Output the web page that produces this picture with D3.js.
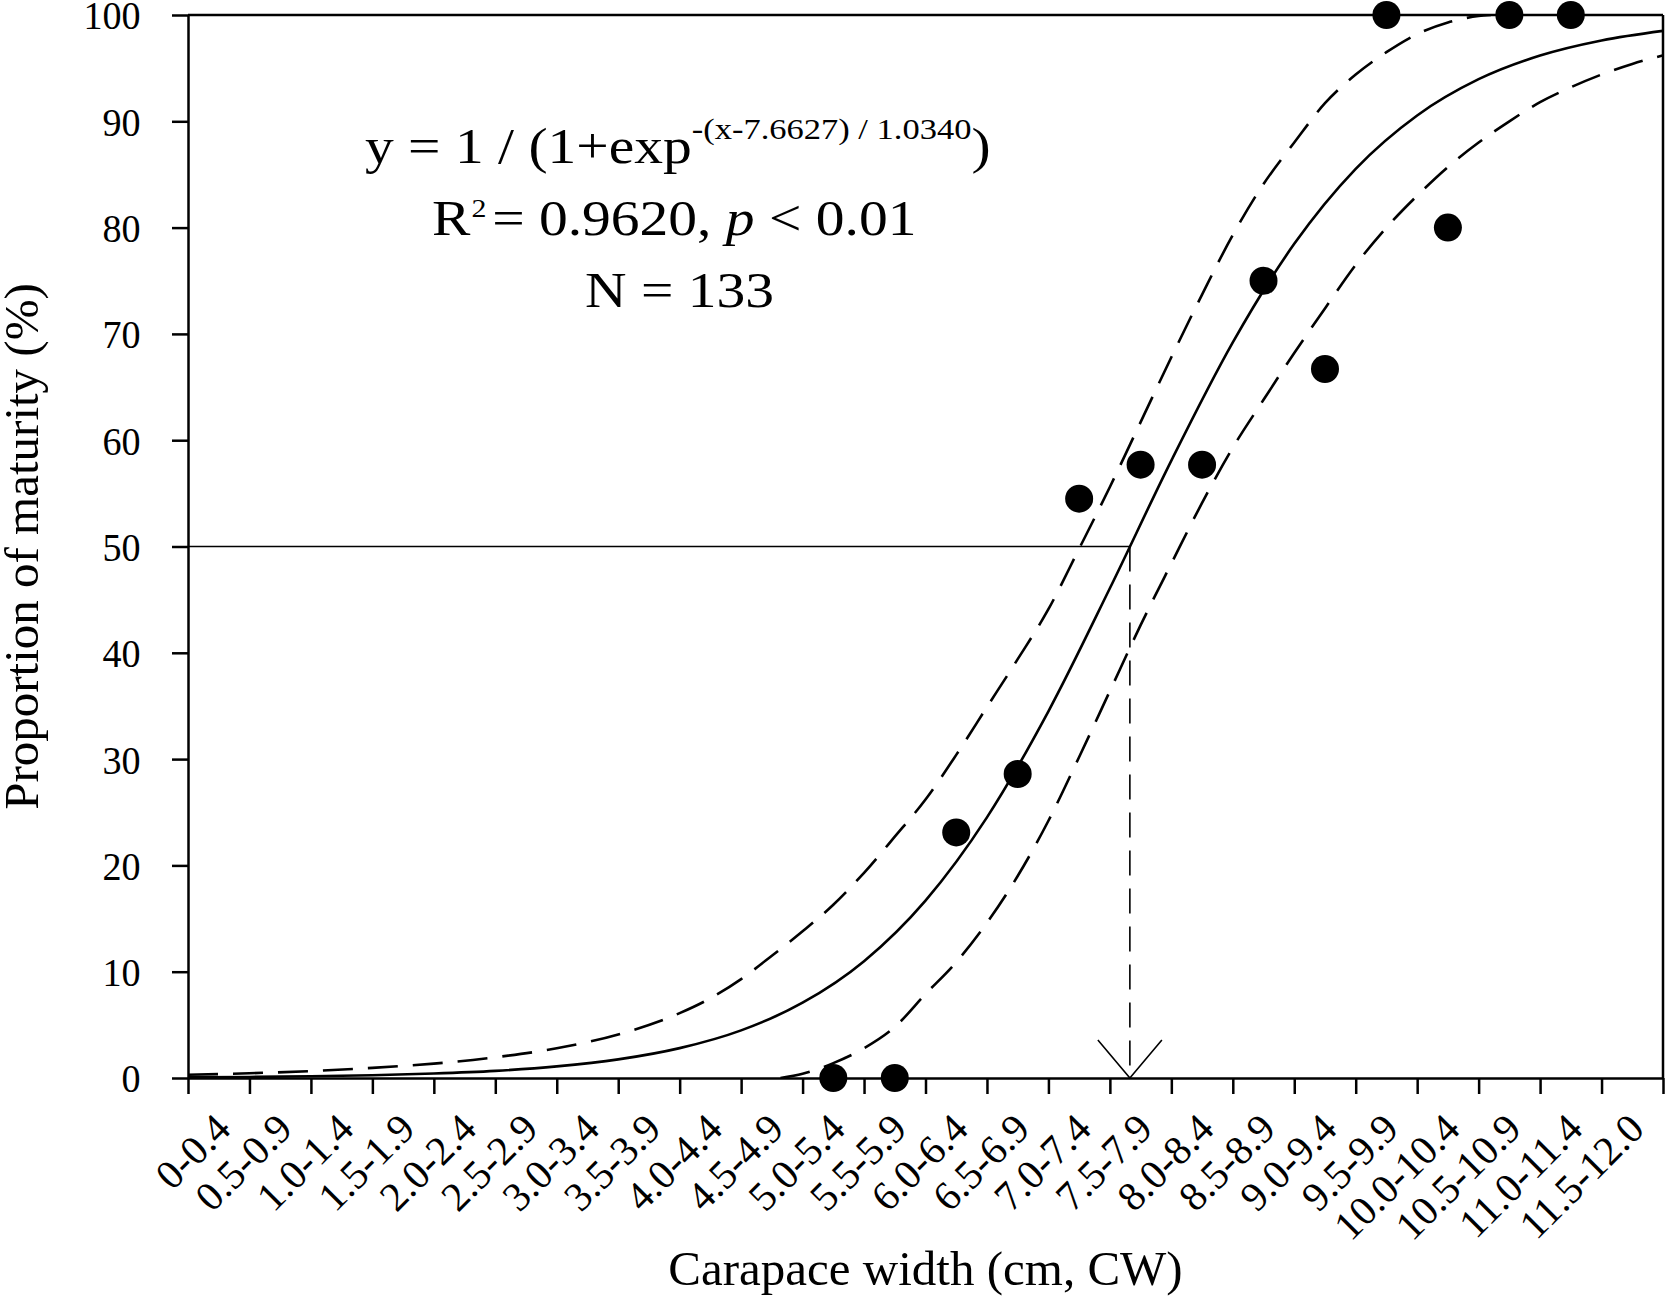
<!DOCTYPE html>
<html>
<head>
<meta charset="utf-8">
<script src="https://cdn.jsdelivr.net/npm/d3@7"></script>
<style>
    body { margin: 0; background: #fff; }
    svg text { font-family: "Liberation Serif", "Times New Roman", serif; fill: #000; white-space: pre; }
</style>
</head>
<body>
<div id="chart"></div>
<script>
// carapace width classes (cm) shown on the x axis
const size_classes = ["0-0.4", "0.5-0.9", "1.0-1.4", "1.5-1.9", "2.0-2.4", "2.5-2.9", "3.0-3.4", "3.5-3.9",
    "4.0-4.4", "4.5-4.9", "5.0-5.4", "5.5-5.9", "6.0-6.4", "6.5-6.9", "7.0-7.4", "7.5-7.9", "8.0-8.4",
    "8.5-8.9", "9.0-9.4", "9.5-9.9", "10.0-10.4", "10.5-10.9", "11.0-11.4", "11.5-12.0"];
const y_ticks = [0, 10, 20, 30, 40, 50, 60, 70, 80, 90, 100];
const x_edges = [0, 0.5, 1, 1.5, 2, 2.5, 3, 3.5, 4, 4.5, 5, 5.5, 6, 6.5, 7, 7.5, 8, 8.5, 9, 9.5, 10, 10.5, 11, 11.5, 12];

// observed proportion mature per class
const observed_classes = ["5.0-5.4", "5.5-5.9", "6.0-6.4", "6.5-6.9", "7.0-7.4", "7.5-7.9", "8.0-8.4",
    "8.5-8.9", "9.0-9.4", "9.5-9.9", "10.0-10.4", "10.5-10.9", "11.0-11.4"];
const observed_pct = [0, 0, 23.1, 28.6, 54.5, 57.7, 57.7, 75.0, 66.7, 100, 80.0, 100, 100];

// fitted logistic curve (solid)
const fit_cw = [0, 0.5, 1, 1.5, 2, 2.5, 3, 3.5, 4, 4.5, 5, 5.5, 6, 6.5, 7, 7.5, 8, 8.5, 9, 9.5, 10, 10.5, 11, 11.5, 12];
const fit_pct = [0.06, 0.1, 0.16, 0.26, 0.42, 0.67, 1.09, 1.75, 2.81, 4.48, 7.08, 10.99, 16.69, 24.52, 34.5,
    46.07, 58.08, 69.2, 78.47, 85.53, 90.55, 93.96, 96.19, 97.61, 98.51];

// upper and lower dashed bands
const upper_cw = [0, 0.5, 1, 1.5, 2, 2.5, 3, 3.5, 4, 4.25, 4.5, 4.75, 5, 5.25, 5.5, 5.75, 6, 6.25, 6.5, 6.75,
    7, 7.25, 7.5, 7.75, 8, 8.25, 8.5, 8.75, 9, 9.25, 9.5, 9.75, 10, 10.25, 10.5, 10.6];
const upper_pct = [0.3, 0.45, 0.65, 0.95, 1.35, 1.95, 2.8, 4.1, 6.1, 7.5, 9.3, 11.5, 13.8, 16.3, 19.3, 22.7,
    26.2, 30.4, 34.9, 39.4, 44.1, 49.8, 55.6, 61.7, 67.8, 73.7, 79.3, 84.1, 88.0, 91.7, 94.4, 96.5, 98.2,
    99.3, 99.9, 100];
const lower_cw = [4.82, 5, 5.25, 5.5, 5.75, 6, 6.25, 6.5, 6.75, 7, 7.25, 7.5, 7.75, 8, 8.25, 8.5, 8.75, 9,
    9.25, 9.5, 9.75, 10, 10.25, 10.5, 10.75, 11, 11.25, 11.5, 11.75, 12];
const lower_pct = [0, 0.4, 1.4, 2.8, 4.8, 7.9, 10.9, 14.6, 19.0, 24.2, 30.2, 36.4, 42.6, 48.4, 54.1, 59.3,
    63.8, 68.2, 72.4, 76.5, 80.0, 83.0, 85.7, 88.0, 90.0, 91.8, 93.2, 94.4, 95.4, 96.2];

// size at 50% maturity
const l50_cw = 7.6627;
const l50_pct = 50;

class Maturity_Curve {
    constructor(parent_element) {
        this.parent_element = parent_element;
        this.initVis();
    }

    initVis() {
        this.margin = {top: 15, right: 3, bottom: 219, left: 188};
        this.width = 1666 - this.margin.left - this.margin.right;
        this.height = 1297 - this.margin.top - this.margin.bottom;

        this.svg = d3.select("#" + this.parent_element)
            .append("svg")
            .attr("width", 1666)
            .attr("height", 1297)
            .style("display", "block");

        this.g = this.svg.append("g")
            .attr("transform", "translate(" + this.margin.left + "," + this.margin.top + ")");

        // scales
        this.x = d3.scaleLinear().domain([0, 12]).range([0, this.width]);
        this.x_band = d3.scaleBand().domain(size_classes).range([0, this.width]).padding(0);
        this.y = d3.scaleLinear().domain([0, 100]).range([this.height, 0]);

        this.g.append("clipPath")
            .attr("id", "plot-clip")
            .append("rect")
            .attr("width", this.width)
            .attr("height", this.height);

        this.updateVis();
    }

    updateVis() {
        const vis = this;

        // y axis
        const y_axis = this.g.append("g")
            .call(d3.axisLeft(this.y).tickValues(y_ticks).tickSize(16).tickPadding(35).tickSizeOuter(0));
        y_axis.selectAll("path, line").attr("stroke", "#000").attr("stroke-width", 2.5);
        y_axis.selectAll("text")
            .attr("font-size", "41px")
            .attr("dy", "0.34em")
            .attr("transform", "scale(0.93,1)");

        // x axis, ticks on class boundaries
        const x_axis = this.g.append("g")
            .attr("transform", "translate(0," + this.height + ")")
            .call(d3.axisBottom(this.x).tickValues(x_edges).tickSize(16).tickFormat("").tickSizeOuter(0));
        x_axis.selectAll("path, line").attr("stroke", "#000").attr("stroke-width", 2.5);

        // class labels, rotated
        this.g.append("g")
            .selectAll("text")
            .data(size_classes)
            .join("text")
            .attr("transform", d => "translate(" + (this.x_band(d) + this.x_band.bandwidth() / 2 + 14) + "," + (this.height + 53) + ") rotate(-45)")
            .attr("text-anchor", "end")
            .attr("font-size", "41px")
            .text(d => d);

        // top and right frame
        this.g.append("line")
            .attr("x1", 0).attr("x2", this.width)
            .attr("y1", this.y(100)).attr("y2", this.y(100))
            .attr("stroke", "#000").attr("stroke-width", 2.5);
        this.g.append("line")
            .attr("x1", this.width).attr("x2", this.width)
            .attr("y1", this.y(100)).attr("y2", this.y(0))
            .attr("stroke", "#000").attr("stroke-width", 2.5);

        // 50% reference line and arrow
        this.g.append("line")
            .attr("x1", this.x(0)).attr("x2", this.x(l50_cw))
            .attr("y1", this.y(l50_pct)).attr("y2", this.y(l50_pct))
            .attr("stroke", "#000").attr("stroke-width", 1.6);
        this.g.append("line")
            .attr("x1", this.x(l50_cw)).attr("x2", this.x(l50_cw))
            .attr("y1", this.y(l50_pct)).attr("y2", this.y(0))
            .attr("stroke", "#000").attr("stroke-width", 1.6)
            .attr("stroke-dasharray", "25,13");
        this.g.append("polyline")
            .attr("points", [[this.x(l50_cw) - 32, this.y(0) - 38], [this.x(l50_cw), this.y(0)], [this.x(l50_cw) + 32, this.y(0) - 38]].join(" "))
            .attr("fill", "none")
            .attr("stroke", "#000").attr("stroke-width", 1.6);

        // curves
        const line = d3.line()
            .x(d => vis.x(d[0]))
            .y(d => vis.y(d[1]))
            .curve(d3.curveMonotoneX);

        const curves = this.g.append("g").attr("clip-path", "url(#plot-clip)");
        curves.append("path")
            .datum(fit_cw.map((c, i) => [c, fit_pct[i]]))
            .attr("d", line)
            .attr("fill", "none").attr("stroke", "#000").attr("stroke-width", 2.6);
        curves.append("path")
            .datum(upper_cw.map((c, i) => [c, upper_pct[i]]))
            .attr("d", line)
            .attr("fill", "none").attr("stroke", "#000").attr("stroke-width", 2.6)
            .attr("stroke-dasharray", "30,15");
        curves.append("path")
            .datum(lower_cw.map((c, i) => [c, lower_pct[i]]))
            .attr("d", line)
            .attr("fill", "none").attr("stroke", "#000").attr("stroke-width", 2.6)
            .attr("stroke-dasharray", "30,15");

        // observed points
        this.g.append("g")
            .selectAll("circle")
            .data(observed_classes.map((c, i) => ({cls: c, pct: observed_pct[i]})))
            .join("circle")
            .attr("cx", d => this.x_band(d.cls) + this.x_band.bandwidth() / 2)
            .attr("cy", d => this.y(d.pct))
            .attr("r", 14)
            .attr("fill", "#000");

        // equation block
        const eq1 = this.svg.append("text")
            .attr("transform", "translate(365,163) scale(1.15,1)")
            .attr("font-size", "50px");
        eq1.append("tspan").text("y = 1 / (1+exp");
        eq1.append("tspan").attr("font-size", "30px").attr("dy", -24).text("-(x-7.6627) / 1.0340");
        eq1.append("tspan").attr("font-size", "50px").attr("dy", 24).text(")");

        const eq2 = this.svg.append("text")
            .attr("transform", "translate(432,235) scale(1.15,1)")
            .attr("font-size", "50px");
        eq2.append("tspan").text("R");
        eq2.append("tspan").attr("font-size", "26px").attr("dy", -18).attr("dx", 1).text("2");
        eq2.append("tspan").attr("dy", 18).attr("dx", 5).text("= 0.9620, ");
        eq2.append("tspan").attr("font-style", "italic").text("p");
        eq2.append("tspan").text(" < 0.01");

        this.svg.append("text")
            .attr("transform", "translate(585,307) scale(1.15,1)")
            .attr("font-size", "50px")
            .text("N = 133");

        // axis titles
        this.svg.append("text")
            .attr("x", this.margin.left + this.width / 2)
            .attr("y", 1285)
            .attr("text-anchor", "middle")
            .attr("font-size", "49px")
            .text("Carapace width (cm, CW)");

        this.svg.append("text")
            .attr("transform", "translate(38," + (this.margin.top + this.height / 2) + ") rotate(-90)")
            .attr("text-anchor", "middle")
            .attr("font-size", "49px")
            .text("Proportion of maturity (%)");
    }
}

new Maturity_Curve("chart");
</script>
</body>
</html>
